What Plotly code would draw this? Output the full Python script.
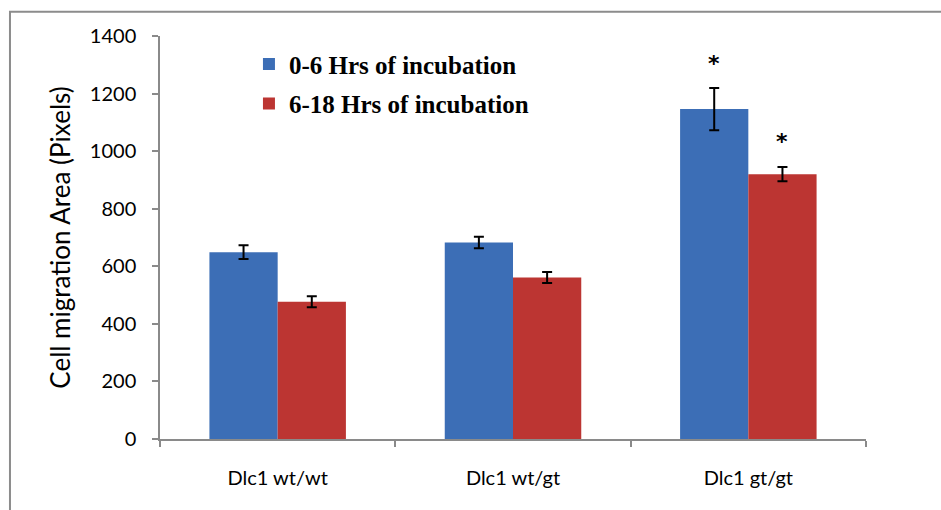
import plotly.graph_objects as go

categories = ["Dlc1 wt/wt", "Dlc1 wt/gt", "Dlc1 gt/gt"]
series_names = ["0-6 Hrs of incubation", "6-18 Hrs of incubation"]
early_vals = [649, 683, 1146]
early_err = [24, 20, 73]
late_vals = [477, 561, 920]
late_err = [19, 19, 25]
significant = [False, False, True]
y_ticks = [0, 200, 400, 600, 800, 1000, 1200, 1400]

blue = "#3C6EB6"
red = "#BC3532"
axis_gray = "#8A8A8A"

fig = go.Figure()
fig.add_trace(go.Bar(
    x=categories, y=early_vals, name=series_names[0], marker_color=blue,
    marker_line_width=0, legendgroup="a",
    error_y=dict(type="data", array=early_err, color="black", thickness=2, width=5),
))
fig.add_trace(go.Bar(
    x=categories, y=late_vals, name=series_names[1], marker_color=red,
    marker_line_width=0, legendgroup="b",
    error_y=dict(type="data", array=late_err, color="black", thickness=2, width=5),
))

annotations = []
for i, cat in enumerate(categories):
    if significant[i]:
        for vals, errs, shift in ((early_vals, early_err, -34), (late_vals, late_err, 34)):
            annotations.append(dict(
                x=cat, y=vals[i] + errs[i], xref="x", yref="y", text="<b>*</b>",
                showarrow=False, xshift=shift, yshift=25, yanchor="middle",
                font=dict(family="DejaVu Sans", size=22, color="black"),
            ))

fig.update_layout(
    width=941, height=510,
    margin=dict(l=160, r=75, t=36, b=71),
    paper_bgcolor="white", plot_bgcolor="white",
    barmode="group", bargap=0.42, bargroupgap=0,
    showlegend=True,
    legend=dict(
        x=0.126, y=0.987, xanchor="left", yanchor="top",
        font=dict(family="Liberation Serif", size=25, color="black", weight="bold"),
        bgcolor="rgba(0,0,0,0)", tracegroupgap=4, itemwidth=30,
    ),
    annotations=annotations,
    shapes=[dict(
        type="rect", xref="paper", yref="paper",
        x0=-0.2125, x1=1.3, y0=-0.4, y1=1.06,
        line=dict(color="#8C8C8C", width=2), fillcolor="rgba(0,0,0,0)",
        layer="below",
    )],
)

fig.update_xaxes(
    type="category", showline=True, linecolor=axis_gray, linewidth=1.5,
    ticks="outside", tickson="boundaries", ticklen=6, tickcolor=axis_gray,
    tickwidth=1.5, showgrid=False, ticklabelstandoff=20,
    tickfont=dict(family="Lato", size=20, color="black"),
)
fig.update_yaxes(
    range=[0, 1400], tickvals=y_ticks, showline=True, linecolor=axis_gray,
    linewidth=1.5, ticks="outside", ticklen=6, tickcolor=axis_gray,
    tickwidth=1.5, showgrid=False, zeroline=False, ticklabelstandoff=12,
    tickfont=dict(family="Lato", size=20, color="black"),
    title=dict(text="Cell migration Area (Pixels)", standoff=12,
               font=dict(family="Lato", size=26, color="black")),
)

fig.write_html("out.html", config={"displayModeBar": False},
               post_script="document.body.style.margin='0';")
